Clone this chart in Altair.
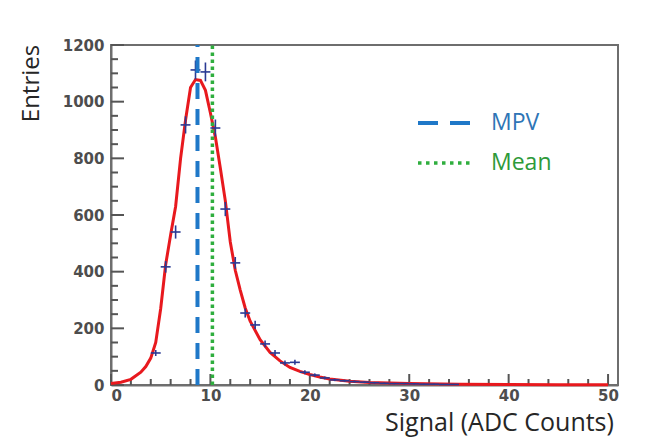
import altair as alt
import pandas as pd
import numpy as np

# ---- data ----
bin_centers = [4.5, 5.5, 6.5, 7.5, 8.5, 9.5, 10.5, 11.5, 12.5, 13.5, 14.5, 15.5, 16.5,
               17.5, 18.5, 19.5, 20.5, 21.5, 22.5, 23.5, 24.5, 25.5, 26.5, 27.5, 28.5,
               29.5, 30.5, 31.5, 32.5, 33.5, 34.5]
entries = [113, 417, 540, 918, 1112, 1105, 907, 621, 431, 254, 212, 145, 113,
           78, 80, 45, 35, 25, 18, 15, 12, 10, 8, 6, 5, 5, 4, 3, 3, 2, 2]

fit_x = [0, 1, 2, 3, 3.5, 4, 4.5, 5, 5.5, 6, 6.5, 7, 7.5, 8, 8.5, 9, 9.5, 10, 10.5,
         11, 11.5, 12, 12.5, 13, 13.5, 14, 15, 16, 17, 18, 19, 20, 21, 22, 24, 26, 28,
         30, 35, 40, 45, 50]
fit_y = [5, 10, 20, 45, 65, 95, 150, 270, 425, 530, 630, 800, 935, 1050, 1078, 1075,
         1040, 960, 875, 765, 650, 505, 405, 335, 272, 225, 160, 115, 85, 62, 48, 37, 28,
         21, 13, 9, 7, 5, 3, 2, 1, 1]

mpv_value = [8.7]
mean_value = [10.2]

x_major_ticks = [0, 10, 20, 30, 40, 50]
x_minor_ticks = [v for v in range(2, 51, 2) if v % 10 != 0]
y_major_ticks = [0, 200, 400, 600, 800, 1000, 1200]
y_minor_ticks = [v for v in range(50, 1200, 50) if v % 200 != 0]

X_MAX, Y_MAX = 51, 1200
W, H = 507, 340

# ---- tables ----
pts = pd.DataFrame({"x": bin_centers, "y": entries})
pts["xlo"] = pts["x"] - 0.5
pts["xhi"] = pts["x"] + 0.5
pts["ylo"] = pts["y"] - np.sqrt(pts["y"])
pts["yhi"] = pts["y"] + np.sqrt(pts["y"])
fit = pd.DataFrame({"x": fit_x, "y": fit_y})
mpv_df = pd.DataFrame({"x": mpv_value, "y0": [0], "y1": [Y_MAX]})
mean_df = pd.DataFrame({"x": mean_value, "y0": [0], "y1": [Y_MAX]})
one = pd.DataFrame({"a": [0]})

FONT = "Open Sans"
AXC = "#6e6e6e"
TICKC = "#555555"
xscale = alt.Scale(domain=[0, X_MAX], nice=False, zero=False)
yscale = alt.Scale(domain=[0, Y_MAX], nice=False)

x_axis = alt.Axis(values=x_major_ticks, ticks=False, grid=False, domainColor=AXC,
                  domainWidth=2, labelFont="DejaVu Sans", labelFontSize=15,
                  labelFontWeight="bold", labelColor="#4d4d4d", labelPadding=3,
                  format="d", title="Signal (ADC Counts)",
                  titleFont=FONT, titleFontSize=25, titleFontWeight="normal",
                  titleColor="#262626", titleX=388, titleY=37, titleAlign="center",
                  titleBaseline="middle")
y_axis = alt.Axis(values=y_major_ticks, ticks=False, grid=False, domainColor=AXC,
                  domainWidth=2, labelFont="DejaVu Sans", labelFontSize=15,
                  labelFontWeight="bold", labelColor="#4d4d4d", labelPadding=7,
                  format="d", title="Entries",
                  titleFont=FONT, titleFontSize=24, titleFontWeight="normal",
                  titleColor="#262626", titleX=-80, titleY=38, titleAlign="center",
                  titleBaseline="middle", titleAngle=-90)

curve = alt.Chart(fit).mark_line(color="#e8191e", strokeWidth=3).encode(
    x=alt.X("x:Q", scale=xscale, axis=x_axis),
    y=alt.Y("y:Q", scale=yscale, axis=y_axis),
)
hbar = alt.Chart(pts).mark_rule(color="#2a3a94", strokeWidth=1.6).encode(
    x=alt.X("xlo:Q", scale=xscale), x2="xhi:Q", y=alt.Y("y:Q", scale=yscale))
vbar = alt.Chart(pts).mark_rule(color="#2a3a94", strokeWidth=1.6).encode(
    x=alt.X("x:Q", scale=xscale), y=alt.Y("ylo:Q", scale=yscale), y2="yhi:Q")
mpv_line = alt.Chart(mpv_df).mark_rule(color="#1f78c8", strokeWidth=4,
                                        strokeDash=[16, 10]).encode(
    x=alt.X("x:Q", scale=xscale), y=alt.Y("y0:Q", scale=yscale), y2="y1:Q")
mean_line = alt.Chart(mean_df).mark_rule(color="#2fae3e", strokeWidth=3.5,
                                          strokeDash=[3.5, 3.5]).encode(
    x=alt.X("x:Q", scale=xscale), y=alt.Y("y0:Q", scale=yscale), y2="y1:Q")

# inward ticks (ROOT style); tick length given in pixels, converted to data units
def yticks(vals, length_px):
    df = pd.DataFrame({"v": vals})
    df["a"] = 0.0
    df["b"] = length_px * X_MAX / W
    return alt.Chart(df).mark_rule(color=TICKC, strokeWidth=2).encode(
        y=alt.Y("v:Q", scale=yscale), x=alt.X("a:Q", scale=xscale), x2="b:Q")

def xticks(vals, length_px):
    df = pd.DataFrame({"v": vals})
    df["a"] = 0.0
    df["b"] = length_px * Y_MAX / H
    return alt.Chart(df).mark_rule(color=TICKC, strokeWidth=2).encode(
        x=alt.X("v:Q", scale=xscale), y=alt.Y("a:Q", scale=yscale), y2="b:Q")

# legend
leg_mpv = alt.Chart(one).mark_rule(color="#1f78c8", strokeWidth=4, strokeDash=[20, 12]).encode(
    x=alt.value(307), x2=alt.value(359), y=alt.value(78))
leg_mean = alt.Chart(one).mark_rule(color="#2fae3e", strokeWidth=3.5, strokeDash=[3.5, 4.5]).encode(
    x=alt.value(307), x2=alt.value(359), y=alt.value(118))
txt_mpv = alt.Chart(one).mark_text(text="MPV", align="left", baseline="middle", font=FONT,
                                   fontSize=23, color="#2e75b6").encode(
    x=alt.value(380), y=alt.value(78))
txt_mean = alt.Chart(one).mark_text(text="Mean", align="left", baseline="middle", font=FONT,
                                    fontSize=23, color="#2e9a3a").encode(
    x=alt.value(380), y=alt.value(118))

chart = alt.layer(
    yticks(y_major_ticks, 13), yticks(y_minor_ticks, 7),
    xticks(x_major_ticks, 11), xticks(x_minor_ticks, 6),
    curve, hbar, vbar, mpv_line, mean_line,
    leg_mpv, leg_mean, txt_mpv, txt_mean,
).properties(
    width=W, height=H,
    autosize=alt.AutoSizeParams(type="none"),
    padding={"left": 103, "top": 37, "right": 27, "bottom": 53},
    background="white",
).configure_view(stroke=AXC, strokeWidth=2)

chart.save("out.html", embed_options={"renderer": "svg", "actions": False})
